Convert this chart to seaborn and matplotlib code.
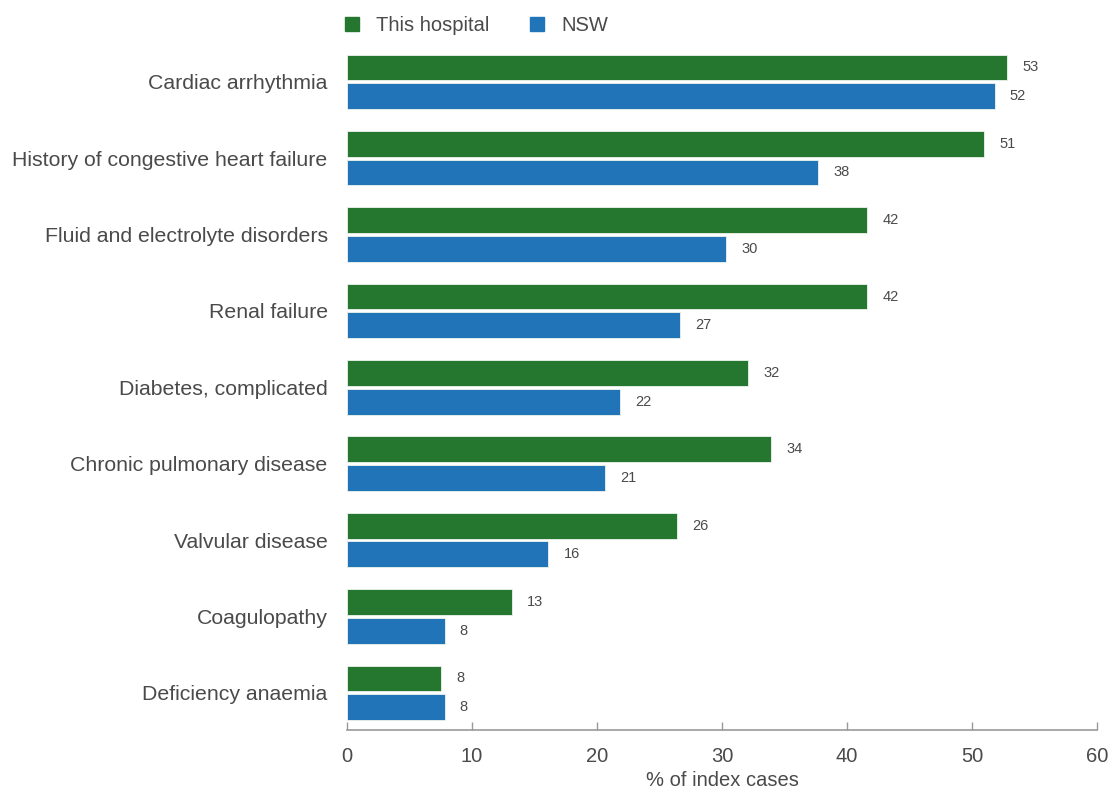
import pandas as pd
import matplotlib.pyplot as plt
import seaborn as sns

categories = [
    'Cardiac arrhythmia',
    'History of congestive heart failure',
    'Fluid and electrolyte disorders',
    'Renal failure',
    'Diabetes, complicated',
    'Chronic pulmonary disease',
    'Valvular disease',
    'Coagulopathy',
    'Deficiency anaemia',
]
hospital = [52.8, 50.96, 41.6, 41.6, 32.1, 33.9, 26.4, 13.2, 7.5]
nsw = [51.8, 37.7, 30.3, 26.6, 21.8, 20.6, 16.1, 7.8, 7.8]
series = ['This hospital', 'NSW']
colors = ['#25772f', '#2174b8']

df = pd.DataFrame({
    'Condition': categories * 2,
    'Value': hospital + nsw,
    'Series': [series[0]] * len(categories) + [series[1]] * len(categories),
})

sns.set_style('white')
plt.rcParams['font.family'] = ['Liberation Sans', 'DejaVu Sans']
text_col = '#4a4a4a'

fig = plt.figure(figsize=(11.16, 7.92), dpi=100)
ax = fig.add_axes([0.311, 0.078, 0.672, 0.865])

sns.barplot(
    data=df, x='Value', y='Condition', hue='Series', hue_order=series,
    palette=colors, saturation=1, orient='h', width=0.75, gap=0.1,
    edgecolor='#eef3ee', linewidth=0.6, ax=ax, legend=False,
)

for cont in ax.containers:
    ax.bar_label(cont, fmt='%.0f', padding=11, fontsize=10.5, color=text_col)

ax.set_xlim(0, 60)
ax.set_ylim(8.49, -0.48)
ax.set_xticks(range(0, 61, 10))
ax.set_xlabel('% of index cases', fontsize=14.5, color=text_col, labelpad=4)
ax.set_ylabel('')
for s in ['top', 'right', 'left']:
    ax.spines[s].set_visible(False)
ax.spines['bottom'].set_color('#999999')
ax.spines['bottom'].set_linewidth(1.2)
ax.tick_params(axis='x', bottom=True, direction='in', length=6, width=1, color='#999999',
               labelsize=14.5, labelcolor=text_col, pad=12)
ax.tick_params(axis='y', left=False, length=0, labelsize=15.3, labelcolor=text_col, pad=14)

handles = [plt.Rectangle((0, 0), 1, 1, color=c) for c in colors]
fig.legend(handles, series, loc='upper left', bbox_to_anchor=(0.293, 1.003),
           ncol=2, frameon=False, fontsize=14.5, handlelength=0.7, handleheight=0.7,
           columnspacing=2.0, handletextpad=0.85, labelcolor=text_col)

fig.savefig('out.png', dpi=100)
